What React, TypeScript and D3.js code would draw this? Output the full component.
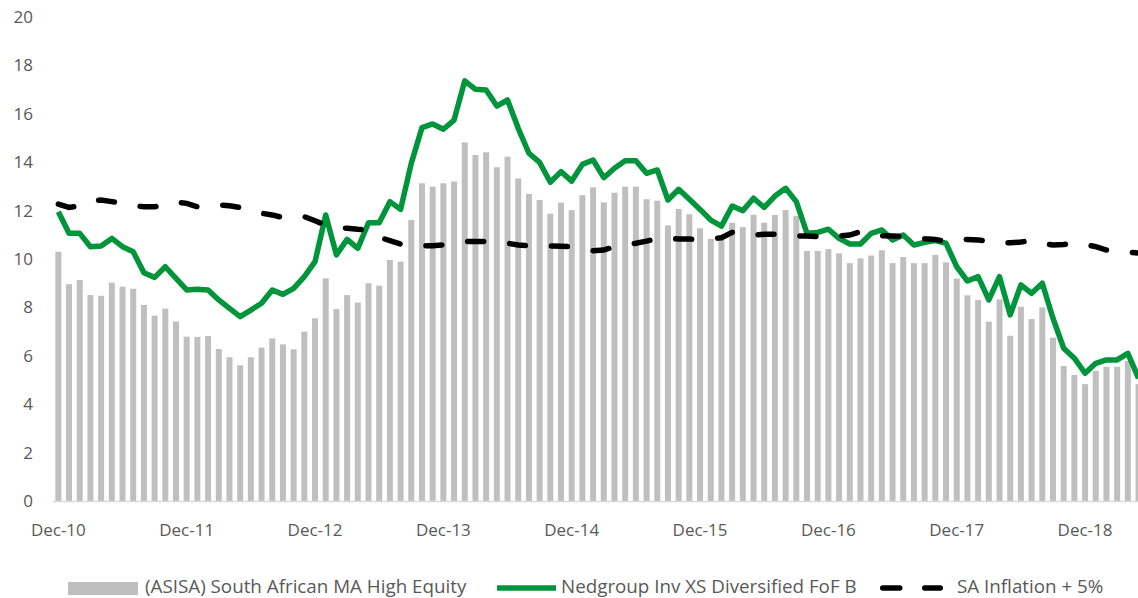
import React from "react";
import * as d3 from "d3";

// monthly, Dec-10 .. May-19
const months: string[] = d3
  .timeMonth.range(new Date(2010, 11, 1), new Date(2019, 5, 1))
  .map((d) => d3.timeFormat("%b-%y")(d));

const tickLabels = ["Dec-10", "Dec-11", "Dec-12", "Dec-13", "Dec-14", "Dec-15", "Dec-16", "Dec-17", "Dec-18"];
const yTicks = [0, 2, 4, 6, 8, 10, 12, 14, 16, 18, 20];

// (ASISA) South African MA High Equity
const peerValues = [
  10.3, 8.96, 9.13, 8.51, 8.48, 9.02, 8.86, 8.77, 8.1, 7.66,
  7.95, 7.42, 6.79, 6.78, 6.82, 6.28, 5.94, 5.61, 5.94, 6.34,
  6.72, 6.47, 6.27, 7.0, 7.55, 9.2, 7.93, 8.51, 8.2, 9.0,
  8.9, 9.96, 9.89, 11.61, 13.13, 12.99, 13.13, 13.2, 14.82, 14.3,
  14.41, 13.79, 14.23, 13.33, 12.69, 12.44, 11.87, 12.33, 12.02, 12.64,
  12.96, 12.34, 12.74, 12.99, 12.99, 12.47, 12.41, 11.39, 12.07, 11.85,
  11.27, 10.83, 10.83, 11.5, 11.32, 11.83, 11.5, 11.82, 12.02, 11.78,
  10.33, 10.33, 10.41, 10.23, 9.83, 10.03, 10.14, 10.36, 9.83, 10.08,
  9.83, 9.83, 10.17, 9.86, 9.19, 8.5, 8.31, 7.41, 8.33, 6.83,
  8.03, 7.52, 8.0, 6.75, 5.58, 5.21, 4.83, 5.38, 5.55, 5.55,
  5.79, 4.83,
];

// Nedgroup Inv XS Diversified FoF B
const fundValues = [
  11.95, 11.06, 11.06, 10.51, 10.54, 10.85, 10.51, 10.3, 9.43, 9.24,
  9.68, 9.2, 8.72, 8.75, 8.72, 8.31, 7.96, 7.62, 7.89, 8.17,
  8.72, 8.54, 8.79, 9.27, 9.89, 11.82, 10.17, 10.81, 10.44, 11.5,
  11.5, 12.37, 12.05, 13.95, 15.43, 15.58, 15.36, 15.74, 17.36, 17.01,
  16.98, 16.32, 16.57, 15.4, 14.37, 13.99, 13.17, 13.61, 13.22, 13.91,
  14.09, 13.36, 13.75, 14.06, 14.06, 13.54, 13.68, 12.44, 12.88, 12.47,
  12.05, 11.61, 11.36, 12.19, 12.0, 12.51, 12.13, 12.6, 12.92, 12.37,
  11.06, 11.1, 11.23, 10.85, 10.62, 10.62, 11.06, 11.2, 10.79, 10.99,
  10.58, 10.69, 10.76, 10.65, 9.68, 9.09, 9.27, 8.31, 9.27, 7.69,
  8.93, 8.58, 9.0, 7.55, 6.31, 5.9, 5.28, 5.69, 5.83, 5.83,
  6.1, 5.07,
];

// SA Inflation + 5%
const inflationValues = [
  12.27, 12.13, 12.2, 12.4, 12.44, 12.37, 12.3, 12.2, 12.16, 12.16,
  12.2, 12.35, 12.3, 12.16, 12.2, 12.23, 12.2, 12.13, 12.0, 11.89,
  11.82, 11.71, 11.72, 11.75, 11.58, 11.4, 11.3, 11.27, 11.23, 11.2,
  10.9, 10.76, 10.62, 10.6, 10.55, 10.55, 10.58, 10.65, 10.72, 10.72,
  10.72, 10.68, 10.65, 10.58, 10.55, 10.54, 10.54, 10.53, 10.5, 10.42,
  10.34, 10.37, 10.51, 10.6, 10.65, 10.74, 10.84, 10.84, 10.83, 10.83,
  10.79, 10.83, 10.88, 11.1, 10.99, 10.99, 11.02, 11.02, 10.98, 10.95,
  10.95, 10.93, 10.9, 10.95, 10.99, 11.13, 11.0, 10.96, 10.95, 10.93,
  10.88, 10.84, 10.81, 10.72, 10.76, 10.81, 10.79, 10.72, 10.68, 10.67,
  10.7, 10.76, 10.65, 10.58, 10.6, 10.67, 10.6, 10.51, 10.37, 10.3,
  10.28, 10.25,
];

const W = 1138;
const H = 598;
const FONT = "'Open Sans', Lato, sans-serif";
const TEXT = "#595959";
const GREEN = "#00953a";
const GREY = "#bfbfbf";

export default function App() {
  const x = d3
    .scaleBand<string>()
    .domain(months)
    .range([53, 53 + months.length * 10.695])
    .paddingInner(0.44)
    .paddingOuter(0.22);
  const y = d3.scaleLinear().domain([0, 20]).range([501, 17]);
  const cx = (i: number) => (x(months[i]) as number) + x.bandwidth() / 2;

  const line = d3
    .line<number>()
    .x((_, i) => cx(i))
    .y((d) => y(d));

  return (
    <div style={{ position: "fixed", left: 0, top: 0 }}>
      <svg width={W} height={H} style={{ display: "block", background: "#fff" }}>
        {/* bars */}
        {peerValues.map((v, i) => (
          <rect
            key={i}
            x={x(months[i])}
            y={y(v)}
            width={x.bandwidth()}
            height={y(0) - y(v)}
            fill={GREY}
          />
        ))}
        {/* axis line */}
        <line x1={53} x2={W} y1={y(0) + 0.5} y2={y(0) + 0.5} stroke="#d9d9d9" strokeWidth={1.5} />

        {/* y labels */}
        {yTicks.map((t) => (
          <text
            key={t}
            x={33}
            y={y(t)}
            dy="0.35em"
            textAnchor="end"
            fontFamily={FONT}
            fontSize={17}
            fill={TEXT}
          >
            {t}
          </text>
        ))}
        {/* x labels */}
        {tickLabels.map((t) => (
          <text
            key={t}
            x={cx(months.indexOf(t))}
            y={536}
            textAnchor="middle"
            fontFamily={FONT}
            fontSize={17}
            fill={TEXT}
          >
            {t}
          </text>
        ))}

        {/* lines */}
        <path
          d={line(fundValues) || ""}
          fill="none"
          stroke={GREEN}
          strokeWidth={5.5}
          strokeLinejoin="round"
        />
        <path
          d={line(inflationValues) || ""}
          fill="none"
          stroke="#000"
          strokeWidth={5.5}
          strokeLinecap="round"
          strokeDasharray="16,26"
        />

        {/* legend */}
        <rect x={68} y={582} width={70} height={13} fill={GREY} />
        <text x={145} y={593} fontFamily={FONT} fontSize={18.8} fill={TEXT}>
          (ASISA) South African MA High Equity
        </text>
        <line x1={497} x2={556} y1={588} y2={588} stroke={GREEN} strokeWidth={5.5} />
        <text x={561} y={593} fontFamily={FONT} fontSize={18.8} fill={TEXT}>
          Nedgroup Inv XS Diversified FoF B
        </text>
        <line
          x1={882.75}
          x2={940.25}
          y1={588}
          y2={588}
          stroke="#000"
          strokeWidth={5.5}
          strokeLinecap="round"
          strokeDasharray="17,25"
        />
        <text x={957} y={593} fontFamily={FONT} fontSize={18.8} fill={TEXT}>
          SA Inflation + 5%
        </text>
      </svg>
    </div>
  );
}
